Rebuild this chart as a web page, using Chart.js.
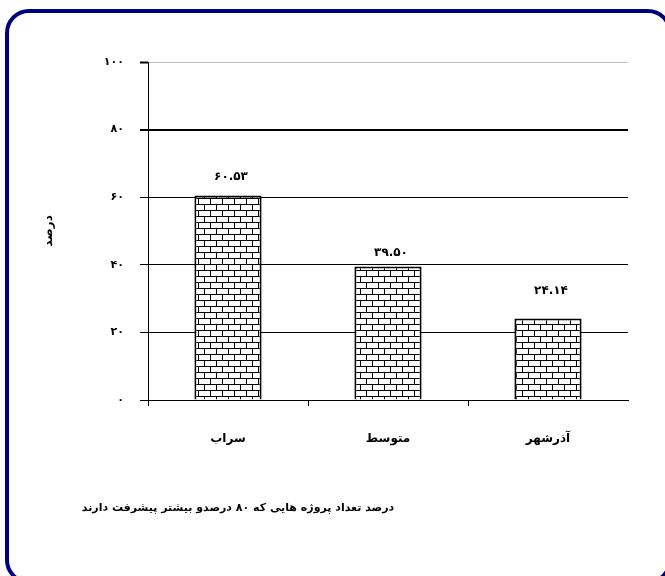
<!DOCTYPE html>
<html>
<head>
<meta charset="utf-8">
<script src="https://cdn.jsdelivr.net/npm/chart.js@4/dist/chart.umd.min.js"></script>
<style>
html,body{margin:0;padding:0;background:#fff;}
canvas{display:block;}
</style>
</head>
<body>
<canvas id="c" width="665" height="576"></canvas>
<script>
const categories = ['سراب', 'متوسط', 'آذرشهر'];
const values = [60.53, 39.50, 24.14];
const valueLabels = ['۶۰.۵۳', '۳۹.۵۰', '۲۴.۱۴'];
const yTicks = [0, 20, 40, 60, 80, 100];
const yTickLabels = ['۰', '۲۰', '۴۰', '۶۰', '۸۰', '۱۰۰'];
const yTitle = 'درصد';
const caption = 'درصد تعداد پروژه هایی که ۸۰ درصدو بیشتر پیشرفت دارند';

const FONT = "'DejaVu Sans', 'Noto Sans', sans-serif";

function brickPattern() {
  const pc = document.createElement('canvas');
  pc.width = 24; pc.height = 12;
  const p = pc.getContext('2d');
  p.fillStyle = '#fff';
  p.fillRect(0, 0, 24, 12);
  p.strokeStyle = '#000';
  p.lineWidth = 1;
  p.beginPath();
  p.moveTo(0, 0.5); p.lineTo(24, 0.5);
  p.moveTo(0, 6.5); p.lineTo(24, 6.5);
  p.moveTo(0.5, 0); p.lineTo(0.5, 6);
  p.moveTo(12.5, 0); p.lineTo(12.5, 6);
  p.moveTo(6.5, 6); p.lineTo(6.5, 12);
  p.moveTo(18.5, 6); p.lineTo(18.5, 12);
  p.stroke();
  return document.getElementById('c').getContext('2d').createPattern(pc, 'repeat');
}

const labelOffsets = [13, 8, 22];

const decorPlugin = {
  id: 'decor',
  afterDraw(chart) {
    const ctx = chart.ctx;
    ctx.save();
    const meta = chart.getDatasetMeta(0);
    ctx.font = 'bold 12px ' + FONT;
    ctx.fillStyle = '#000';
    ctx.textAlign = 'center';
    ctx.textBaseline = 'bottom';
    meta.data.forEach((bar, i) => {
      ctx.fillText(valueLabels[i], bar.x + 3, bar.y - labelOffsets[i]);
    });
    ctx.font = 'bold 11px ' + FONT;
    ctx.textAlign = 'center';
    ctx.textBaseline = 'middle';
    ctx.direction = 'rtl';
    ctx.fillText(caption, 238, 508);
    ctx.direction = 'ltr';
    ctx.strokeStyle = '#000080';
    ctx.lineWidth = 4;
    ctx.beginPath();
    ctx.roundRect(7, 11, 663, 571, 22);
    ctx.stroke();
    ctx.restore();
  }
};

new Chart(document.getElementById('c'), {
  type: 'bar',
  data: {
    labels: categories,
    datasets: [{
      data: values,
      backgroundColor: brickPattern(),
      borderColor: '#000',
      borderWidth: 2,
      barPercentage: 0.42,
      categoryPercentage: 1.0
    }]
  },
  options: {
    responsive: false,
    animation: false,
    layout: { padding: { left: 0, right: 37, top: 62, bottom: 0 } },
    plugins: {
      legend: { display: false },
      tooltip: { enabled: false },
      title: { display: false }
    },
    scales: {
      x: {
        afterFit(scale) { scale.height = 176; },
        grid: {
          drawOnChartArea: false,
          offset: true,
          tickLength: 6,
          tickColor: ctx => (ctx.tick && ctx.index < categories.length) ? '#000' : 'rgba(0,0,0,0)',
          color: '#000',
          lineWidth: 1
        },
        border: { color: '#000', width: 1 },
        ticks: {
          color: '#000',
          padding: 26,
          font: { family: FONT, size: 12, weight: 'bold' }
        }
      },
      y: {
        min: 0,
        max: 100,
        afterFit(scale) { scale.width = 148; },
        afterBuildTicks(scale) { scale.ticks = yTicks.map(v => ({ value: v })); },
        grid: {
          color: ctx => (ctx.tick && ctx.tick.value === 100) ? '#c0c0c0' : '#000',
          lineWidth: ctx => (ctx.tick && ctx.tick.value === 80) ? 2 : 1,
          tickColor: '#000',
          tickLength: 8,
          tickWidth: ctx => (ctx.tick && (ctx.tick.value === 80 || ctx.tick.value === 100)) ? 2 : 1
        },
        border: { color: '#000', width: 1 },
        ticks: {
          color: '#000',
          padding: 16,
          font: { family: FONT, size: 11, weight: 'bold' },
          callback: (v) => yTickLabels[yTicks.indexOf(v)]
        },
        title: {
          display: true,
          text: yTitle,
          color: '#000',
          font: { family: FONT, size: 12, weight: 'bold' },
          padding: { top: 42, bottom: 0 }
        }
      }
    }
  },
  plugins: [decorPlugin]
});
</script>
</body>
</html>
